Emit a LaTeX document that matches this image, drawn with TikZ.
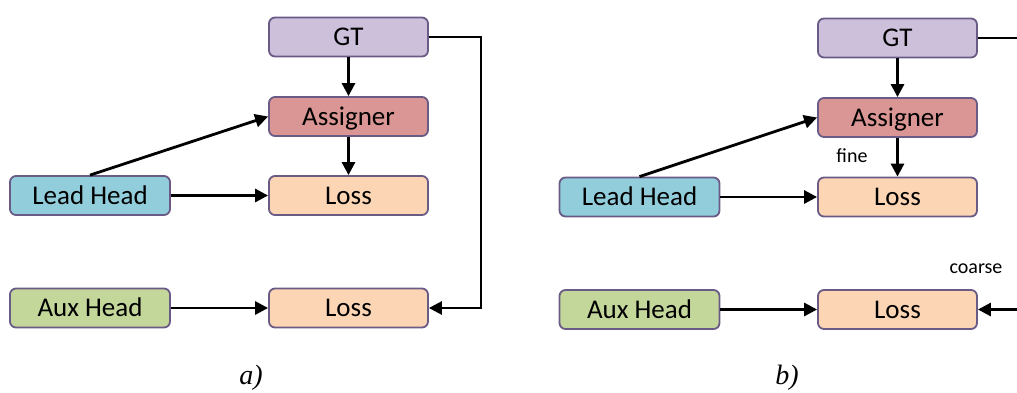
\documentclass[tikz,border=0pt]{standalone}
\usepackage{fontspec}
\setmainfont{Carlito}
\newfontfamily\capfont{Liberation Serif}
\usetikzlibrary{arrows.meta}
\definecolor{bordc}{HTML}{6A5A86}
\definecolor{gtc}{HTML}{CCC0DA}
\definecolor{asc}{HTML}{DA9694}
\definecolor{lossc}{HTML}{FCD5B4}
\definecolor{leadc}{HTML}{92CDDC}
\definecolor{auxc}{HTML}{C4D79B}
\tikzset{
  box/.style={draw=bordc, line width=1.8pt, rounded corners=6pt, minimum width=159pt, minimum height=39pt, inner sep=0pt, text height=17.4pt, text depth=0pt, font=\fontsize{27}{30}\selectfont},
  conn/.style={line width=2.8pt, -{Triangle[length=13pt,width=13pt]}},
  plain/.style={line width=2.8pt},
  lbl/.style={font=\fontsize{20}{24}\selectfont, inner sep=0pt},
  captext/.style={font=\capfont\itshape\fontsize{28}{30}\selectfont, inner sep=0pt}
}
\begin{document}
\begin{tikzpicture}[x=1pt,y=-1pt]
\useasboundingbox (0,0) rectangle (1017,392);
% left panel
\node[box, fill=gtc] (gtA) at (348.5,37) {GT};
\node[box, fill=asc] (asA) at (348.5,116.5) {Assigner};
\node[box, fill=lossc] (l1A) at (348.5,195.5) {Loss};
\node[box, fill=lossc] (l2A) at (348.5,308) {Loss};
\node[box, fill=leadc, minimum width=160pt] (leadA) at (90,195.5) {Lead Head};
\node[box, fill=auxc, minimum width=160pt] (auxA) at (90,308) {Aux Head};
\coordinate (cA) at (481,37);
\draw[conn] (gtA) -- (asA);
\draw[conn] (asA) -- (l1A);
\draw[conn] (leadA) -- (l1A);
\draw[conn] (auxA) -- (l2A);
\draw[conn] (leadA.north) -- (asA.west);
\draw[conn] (gtA.east) -- (cA) |- (l2A.east);
\node[captext] (capA) at (251,378) {a)};
% right panel
\node[box, fill=gtc] (gtB) at (897.5,38) {GT};
\node[box, fill=asc] (asB) at (897.5,117.5) {Assigner};
\node[box, fill=lossc] (l1B) at (897.5,197) {Loss};
\node[box, fill=lossc] (l2B) at (897.5,309.5) {Loss};
\node[box, fill=leadc, minimum width=160pt] (leadB) at (639.5,197) {Lead Head};
\node[box, fill=auxc, minimum width=160pt] (auxB) at (639.5,309.5) {Aux Head};
\coordinate (eB1) at (1017,38);
\coordinate (eB2) at (1017,309.5);
\draw[conn] (gtB) -- (asB);
\draw[conn] (asB) -- (l1B);
\draw[conn] (leadB) -- (l1B);
\draw[conn] (auxB) -- (l2B);
\draw[conn] (leadB.north) -- (asB.west);
\draw[plain] (gtB.east) -- (eB1);
\draw[conn] (eB2) -- (l2B.east);
\node[lbl] (fine) at (852,156) {fine};
\node[lbl] (coarse) at (976,269) {coarse};
\node[captext] (capB) at (787,378) {b)};
\end{tikzpicture}
\end{document}
